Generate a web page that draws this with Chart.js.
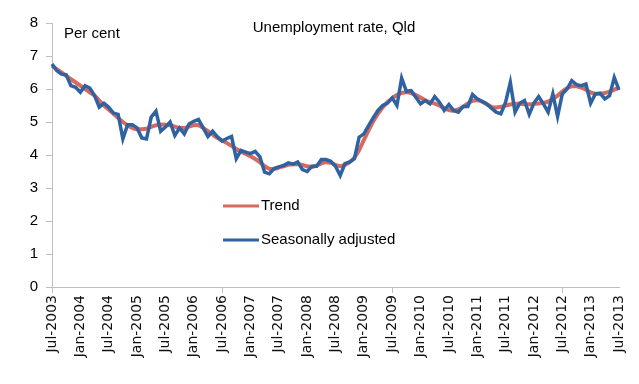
<!DOCTYPE html>
<html>
<head>
<meta charset="utf-8">
<script src="https://cdn.jsdelivr.net/npm/chart.js@4.4.0/dist/chart.umd.min.js"></script>
<style>
  html, body { margin: 0; padding: 0; background: #fff; }
  #wrap { width: 639px; height: 384px; position: relative; }
</style>
</head>
<body>
<div id="wrap"><canvas id="qldChart"></canvas></div>
<script>
// monthly, Jul-2003 .. Jul-2013
var monthNames = ['Jan', 'Feb', 'Mar', 'Apr', 'May', 'Jun', 'Jul', 'Aug', 'Sep', 'Oct', 'Nov', 'Dec'];
var months = [];
for (var y = 2003; y <= 2013; y++) {
    for (var m = 0; m < 12; m++) {
        if (y === 2003 && m < 6) continue;
        if (y === 2013 && m > 6) continue;
        months.push(monthNames[m] + '-' + y);
    }
}

var trend = [
    6.70, 6.60, 6.50, 6.40, 6.30, 6.20, 6.10, 6.00, 5.90, 5.80,
    5.65, 5.50, 5.38, 5.25, 5.12, 5.00, 4.90, 4.82, 4.78, 4.78,
    4.80, 4.85, 4.90, 4.92, 4.92, 4.90, 4.86, 4.82, 4.82, 4.86,
    4.90, 4.90, 4.82, 4.72, 4.62, 4.52, 4.44, 4.36, 4.28, 4.18,
    4.10, 4.03, 3.96, 3.88, 3.78, 3.66, 3.58, 3.58, 3.62, 3.66,
    3.70, 3.72, 3.72, 3.70, 3.66, 3.64, 3.68, 3.75, 3.78, 3.76,
    3.70, 3.66, 3.70, 3.78, 3.92, 4.15, 4.45, 4.75, 5.02, 5.25,
    5.45, 5.60, 5.72, 5.82, 5.88, 5.90, 5.88, 5.82, 5.74, 5.66,
    5.60, 5.56, 5.50, 5.42, 5.36, 5.34, 5.38, 5.46, 5.56, 5.64,
    5.66, 5.62, 5.54, 5.46, 5.44, 5.46, 5.50, 5.53, 5.55, 5.55,
    5.54, 5.54, 5.55, 5.56, 5.58, 5.62, 5.70, 5.80, 5.92, 6.02,
    6.08, 6.08, 6.04, 5.98, 5.90, 5.86, 5.86, 5.88, 5.92, 5.98,
    6.04
];

var seasAdj = [
    6.76, 6.56, 6.45, 6.43, 6.10, 6.05, 5.90, 6.10, 6.03, 5.80,
    5.45, 5.57, 5.45, 5.27, 5.23, 4.49, 4.92, 4.92, 4.82, 4.52,
    4.49, 5.15, 5.33, 4.72, 4.85, 5.00, 4.59, 4.82, 4.64, 4.94,
    5.02, 5.08, 4.82, 4.56, 4.72, 4.55, 4.42, 4.50, 4.56, 3.89,
    4.14, 4.09, 4.04, 4.11, 3.94, 3.48, 3.43, 3.59, 3.64, 3.68,
    3.76, 3.72, 3.79, 3.56, 3.50, 3.66, 3.66, 3.86, 3.86, 3.81,
    3.66, 3.38, 3.74, 3.79, 3.89, 4.54, 4.64, 4.89, 5.13, 5.35,
    5.50, 5.57, 5.73, 5.50, 6.33, 5.93, 5.95, 5.75, 5.55, 5.65,
    5.55, 5.77, 5.60, 5.35, 5.53, 5.35, 5.30, 5.47, 5.47, 5.83,
    5.70, 5.63, 5.55, 5.42, 5.30, 5.25, 5.60, 6.20, 5.30, 5.57,
    5.65, 5.23, 5.57, 5.77, 5.55, 5.30, 5.85, 5.17, 5.85, 6.00,
    6.25, 6.13, 6.10, 6.15, 5.57, 5.85, 5.87, 5.70, 5.80, 6.35,
    5.97
];

var yTicks = [0, 1, 2, 3, 4, 5, 6, 7, 8];

var redColor = '#d9695f';
var blueColor = '#2e62a0';
var axisGrey = '#bfbfbf';

// title, unit and the in-plot legend
var notes = {
    id: 'notes',
    afterDraw: function (chart) {
        var c = chart.ctx;
        c.save();
        c.fillStyle = '#000';
        c.textBaseline = 'middle';
        c.font = '15px "Liberation Sans", Arial, sans-serif';
        c.textAlign = 'left';
        c.fillText('Per cent', 64, 34);
        c.textAlign = 'center';
        c.fillText('Unemployment rate, Qld', 334, 28);

        c.textAlign = 'left';
        c.lineWidth = 3;
        c.strokeStyle = redColor;
        c.beginPath(); c.moveTo(223, 206); c.lineTo(259, 206); c.stroke();
        c.strokeStyle = blueColor;
        c.beginPath(); c.moveTo(223, 240); c.lineTo(259, 240); c.stroke();
        c.fillText('Trend', 261, 206);
        c.fillText('Seasonally adjusted', 261, 240);
        c.restore();
    }
};

var config = {
    type: 'line',
    data: {
        labels: months,
        datasets: [{
            label: 'Trend',
            data: trend,
            borderColor: redColor,
            borderWidth: 4,
            pointRadius: 0,
            tension: 0.3,
            order: 2
        }, {
            label: 'Seasonally adjusted',
            data: seasAdj,
            borderColor: blueColor,
            borderWidth: 3.5,
            pointRadius: 0,
            tension: 0,
            order: 1
        }]
    },
    options: {
        responsive: true,
        maintainAspectRatio: false,
        animation: false,
        layout: { padding: { top: 23, right: 20, left: 0, bottom: 0 } },
        plugins: {
            legend: { display: false },
            tooltip: { enabled: false }
        },
        scales: {
            x: {
                offset: false,
                border: { color: axisGrey, width: 1 },
                grid: {
                    drawOnChartArea: false,
                    tickLength: 6,
                    color: function (ctx) {
                        return ctx.index % 6 === 0 ? axisGrey : 'rgba(0,0,0,0)';
                    }
                },
                ticks: {
                    autoSkip: false,
                    maxRotation: 90,
                    minRotation: 90,
                    color: '#111',
                    padding: 2,
                    font: { family: '"DejaVu Sans", Verdana, sans-serif', size: 14 },
                    callback: function (val, i) {
                        return i % 6 === 0 ? months[i] : null;
                    }
                },
                afterFit: function (scale) { scale.height = 97; }
            },
            y: {
                min: 0,
                max: 8,
                border: { color: axisGrey, width: 1 },
                grid: {
                    drawOnChartArea: false,
                    tickLength: 6,
                    color: axisGrey
                },
                afterBuildTicks: function (scale) {
                    scale.ticks = yTicks.map(function (v) { return { value: v }; });
                },
                ticks: {
                    color: '#000',
                    padding: 8,
                    font: { family: '"Liberation Sans", Arial, sans-serif', size: 15 }
                },
                afterFit: function (scale) { scale.width = 52; }
            }
        }
    },
    plugins: [notes]
};

var qldChart = document.getElementById('qldChart').getContext('2d');
var chart = new Chart(qldChart, config);
</script>
</body>
</html>
